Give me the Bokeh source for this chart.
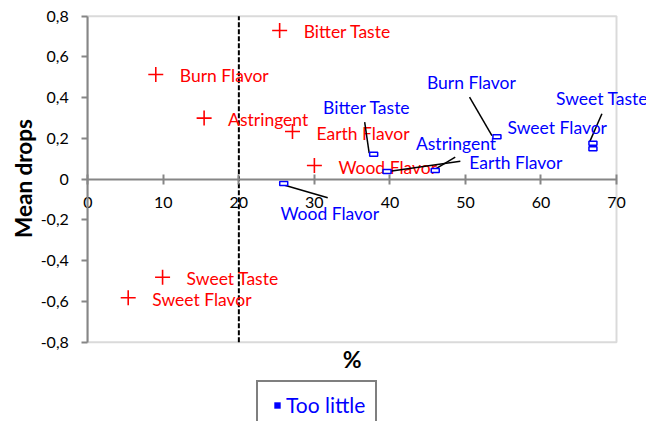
import math
from bokeh.plotting import figure
from bokeh.models import (Range1d, FixedTicker, Label, Legend, LegendItem,
                          ColumnDataSource, BoxAnnotation)
from bokeh.core.properties import value
from bokeh.embed import file_html
from bokeh.resources import INLINE

# ---------------- data ----------------
attributes = ["Bitter Taste", "Burn Flavor", "Astringent", "Earth Flavor",
              "Wood Flavor", "Sweet Taste", "Sweet Flavor"]
too_much_pct = [25.4, 9.0, 15.4, 27.1, 30.0, 9.9, 5.35]
too_much_drop = [0.73, 0.514, 0.30, 0.234, 0.067, -0.481, -0.582]
too_little_pct = [37.85, 54.17, 46.0, 39.62, 25.94, 66.88, 66.88]
too_little_drop = [0.123, 0.208, 0.043, 0.038, -0.021, 0.177, 0.149]
x_ticks = [0, 10, 20, 30, 40, 50, 60, 70]
y_ticks = [-0.8, -0.6, -0.4, -0.2, 0, 0.2, 0.4, 0.6, 0.8]
y_tick_labels = ["-0,8", "-0,6", "-0,4", "-0,2", "0", "0,2", "0,4", "0,6", "0,8"]
threshold_pct = 20
series_names = ["Too much", "Too little"]
x_title = "%"
y_title = "Mean drops"

# ---------------- layout (screen px) ----------------
W, H = 646, 421
XMIN, XMAX, YMIN, YMAX = 0, 70, -0.8, 0.8
PL, PR, PT, PB = 87.3, 616, 15.7, 341.7          # plot-area edges in pixels
pxx = (PR - PL) / (XMAX - XMIN)
pxy = (PB - PT) / (YMAX - YMIN)
xr = Range1d(XMIN - PL / pxx, XMAX + (W - PR) / pxx)
yr = Range1d(YMIN - (H - PB) / pxy, YMAX + PT / pxy)

red_off = (24, 1.5)
blue_label_off = [(-50.6, -47), (-70, -54.6), (-19.3, -27.3), (82.3, -9.3),
                  (-3.3, 30), (-37, -44.4), (-85.4, -21.6)]
blue_leader = [((-9, -32), (-4.5, -1)), ((-27.4, -39.6), (-5, -1.3)),
               ((20, -13.3), (-3.3, 0.7)), ((73.3, -10.3), (-4, 0.7)),
               ((44, 14.3), (-1.6, 1)), ((9, -29.4), (-3.4, -1)), None]

RED = "#FF0000"
BLUE = "#0000FF"
GRAY = "#868686"
FONT = "Lato"

p = figure(width=W, height=H, output_backend="svg", toolbar_location=None,
           x_range=xr, y_range=yr,
           min_border_left=0, min_border_right=0, min_border_top=0, min_border_bottom=0)
p.grid.visible = False
p.outline_line_color = None
p.background_fill_color = "white"
p.border_fill_color = "white"

# plot-area frame (top, right, bottom edges)
p.add_layout(BoxAnnotation(left=XMIN, right=XMAX, bottom=YMIN, top=YMAX,
                           fill_alpha=0, line_color=GRAY, line_width=2, level="underlay"))

# x axis crossing at y = 0
xa = p.xaxis[0]
xa.fixed_location = 0
xa.bounds = (XMIN, XMAX)
xa.ticker = FixedTicker(ticks=x_ticks)
xa.axis_line_color = GRAY
xa.axis_line_width = 2
xa.major_tick_line_color = GRAY
xa.major_tick_line_width = 2
xa.major_tick_in = 5
xa.major_tick_out = 5
xa.minor_tick_line_color = None
xa.major_label_standoff = 13
xa.major_label_text_font = FONT
xa.major_label_text_font_size = "16px"
xa.major_label_text_color = "black"

# y axis at x = 0
ya = p.yaxis[0]
ya.fixed_location = 0
ya.bounds = (YMIN, YMAX)
ya.ticker = FixedTicker(ticks=y_ticks)
ya.major_label_overrides = {t: s for t, s in zip(y_ticks, y_tick_labels)}
ya.axis_line_color = GRAY
ya.axis_line_width = 2
ya.major_tick_line_color = GRAY
ya.major_tick_line_width = 2
ya.major_tick_in = 0
ya.major_tick_out = 6
ya.minor_tick_line_color = None
ya.major_label_standoff = 13
ya.major_label_text_font = FONT
ya.major_label_text_font_size = "16px"
ya.major_label_text_color = "black"

# threshold line
p.segment(x0=[threshold_pct], y0=[YMIN], x1=[threshold_pct], y1=[YMAX],
          line_color="black", line_width=2, line_dash="5 2")

# too much series
src_much = ColumnDataSource(dict(x=too_much_pct, y=too_much_drop, name=attributes))
p.scatter("x", "y", source=src_much, marker="cross", size=15,
          line_color=RED, line_width=1.6)
p.text("x", "y", text="name", source=src_much, x_offset=red_off[0], y_offset=red_off[1],
       text_font=value(FONT), text_font_size="17.5px", text_color=RED,
       text_baseline="middle", text_align="left")

# too little series: leader lines
x0s, y0s, x1s, y1s = [], [], [], []
for px_, py_, ld in zip(too_little_pct, too_little_drop, blue_leader):
    if ld is None:
        continue
    (ax, ay), (bx, by) = ld
    x0s.append(px_ + ax / pxx); y0s.append(py_ - ay / pxy)
    x1s.append(px_ + bx / pxx); y1s.append(py_ - by / pxy)
p.segment(x0s, y0s, x1s, y1s, line_color="black", line_width=1.5)

src_little = ColumnDataSource(dict(x=too_little_pct, y=too_little_drop, name=attributes,
                                   dx=[o[0] for o in blue_label_off],
                                   dy=[o[1] for o in blue_label_off]))
p.rect("x", "y", width=8, height=4, width_units="screen", height_units="screen",
       source=src_little, line_color=BLUE, line_width=1.5, fill_color="white")
p.text("x", "y", text="name", source=src_little, x_offset="dx", y_offset="dy",
       text_font=value(FONT), text_font_size="17.5px", text_color=BLUE,
       text_baseline="middle", text_align="left")

# axis titles
p.add_layout(Label(x=351.7, y=H - 358, x_units="screen", y_units="screen",
                   text=x_title, text_font=FONT, text_font_size="23px", text_font_style="bold",
                   text_color="black", text_align="center", text_baseline="middle"))
p.add_layout(Label(x=23, y=H - 178, x_units="screen", y_units="screen", angle=math.pi / 2,
                   text=y_title, text_font=FONT, text_font_size="22.5px", text_font_style="bold",
                   text_color="black", text_align="center", text_baseline="middle"))

# legend (only the "Too little" entry is in view); legend glyph from a zero-size marker set
r_leg = p.scatter("x", "y", source=src_little, marker="square", size=0,
                  fill_color=BLUE, line_color=None)
legend = Legend(items=[LegendItem(label=series_names[1], renderers=[r_leg])],
                location=(256, -8), padding=10, glyph_width=18, glyph_height=16,
                label_standoff=0, label_text_font=FONT, label_text_font_size="21px",
                label_text_color=BLUE, border_line_color="black", border_line_width=2,
                background_fill_alpha=1, margin=0)
p.add_layout(legend, "center")

open("out.html", "w").write(file_html(p, INLINE))
